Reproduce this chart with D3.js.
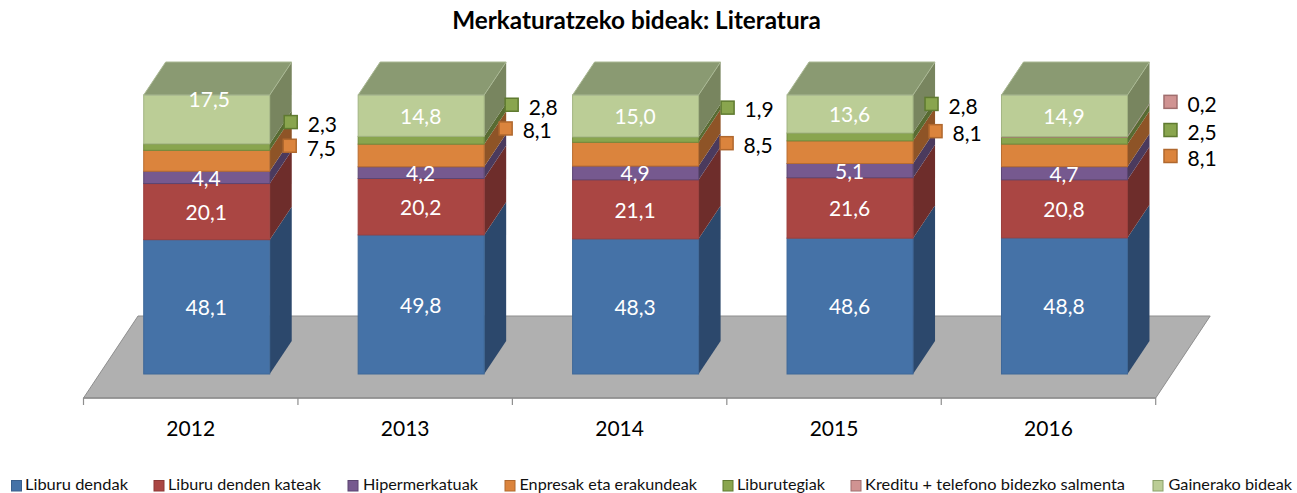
<!DOCTYPE html>
<html><head><meta charset="utf-8">
<script src="https://cdn.jsdelivr.net/npm/d3@7"></script>
<style>html,body{margin:0;padding:0;background:#fff}svg{display:block}text{font-family:Lato,"Open Sans",sans-serif}</style>
</head><body><svg id="c" width="1297" height="493"></svg>
<script>
const chartTitle = "Merkaturatzeko bideak: Literatura";
const years = ["2012","2013","2014","2015","2016"];
const seriesNames = ["Liburu dendak","Liburu denden kateak","Hipermerkatuak","Enpresak eta erakundeak","Liburutegiak","Kreditu + telefono bidezko salmenta","Gainerako bideak"];
const liburuDendak = [48.1,49.8,48.3,48.6,48.8];
const dendenKateak = [20.1,20.2,21.1,21.6,20.8];
const hipermerkatuak = [4.4,4.2,4.9,5.1,4.7];
const enpresak = [7.5,8.1,8.5,8.1,8.1];
const liburutegiak = [2.3,2.8,1.9,2.8,2.5];
const kreditua = [0,0,0,0,0.2];
const gainerakoak = [17.5,14.8,15.0,13.6,14.9];
const allValues = [liburuDendak,dendenKateak,hipermerkatuak,enpresak,liburutegiak,kreditua,gainerakoak];

const frontColors = ["#4572a7","#aa4643","#76598f","#db843d","#89a54e","#d09392","#bbcd96"];
const sideColors  = ["#2c486c","#6e2d2b","#4b3a5d","#8e5427","#586b32","#87605f","#78855f"];
const edgeColors  = ["#3f6898","#9b3f3d","#5d4672","#b86c30","#6f8a3c","#a87675","#a3b583"];
const markerEdges = ["#3a5f8c","#8c3836","#5a4570","#b0682e","#5f7a30","#a06e6e","#8aa068"];
const topColor = "#8a9a72", topEdge="#a9b893";
const floorColor = "#b0b0b0", floorEdge="#8e8e8e";

// label placement: [series index, year index, dx from bar's right edge, dy from segment centre]
const calloutOffsets = [
 [3,0,20,-15],[4,0,21,-25],
 [3,1,21.5,-27],[4,1,27.5,-35.5],
 [3,2,28,-11],[4,2,29,-32],
 [3,3,22.5,-21],[4,3,18.5,-33],
 [3,4,43,0.6],[4,4,43,-10.6],[5,4,43,-35]
];
const legendSwatchX = [11.5,154,348,505,723,851,1153];
const legendTextX = [25,168,363,519.5,737,865,1168.5];
const legendWidths = [103,153,115,177.5,88,260,123.5];

const svg = d3.select("#c");
const axisY = 398, depthX = 22, depthY = -33, floorDX = 54.5, floorDY = -82, barShift = 16;
const x = d3.scaleBand().domain(years).range([83.5,1155.7]).paddingInner(0.4124).paddingOuter(0.2062);
const y = d3.scaleLinear().domain([0,1]).range([374,95]);
const table = years.map((yr,i)=>{const o={year:yr};seriesNames.forEach((s,k)=>o[s]=allValues[k][i]);return o;});
const stacked = d3.stack().keys(seriesNames).offset(d3.stackOffsetExpand)(table);

// floor
const [r0,r1] = x.range();
svg.append("path").attr("d",`M${r0},${axisY}L${r0+floorDX},${axisY+floorDY}L${r1+floorDX},${axisY+floorDY}L${r1},${axisY}Z`)
  .attr("fill",floorColor).attr("stroke",floorEdge).attr("stroke-width",1);

// axis
const axisG = svg.append("g").attr("transform",`translate(0,${axisY})`).call(d3.axisBottom(x).tickSize(0).tickPadding(23));
axisG.select(".domain").attr("stroke",floorEdge).attr("stroke-width",1.5).attr("d",`M${r0},0H${r1}`);
axisG.selectAll(".tick text").attr("font-size",21).attr("fill","#000").style("font-family","Lato");
svg.append("g").selectAll("line").data(d3.range(years.length+1)).join("line")
  .attr("x1",i=>r0+i*x.step()).attr("x2",i=>r0+i*x.step()).attr("y1",axisY).attr("y2",axisY+7)
  .attr("stroke",floorEdge).attr("stroke-width",1.2);

// bars
const bw = x.bandwidth();
const bars = svg.append("g");
stacked.forEach((ser,k)=>{
  const g = bars.append("g");
  ser.forEach((d,i)=>{
    if(d[1]-d[0]<=0) return;
    const l = x(years[i])+barShift, r=l+bw, t=y(d[1]), b=y(d[0]);
    g.append("path").attr("d",`M${r},${b}L${r+depthX},${b+depthY}L${r+depthX},${t+depthY}L${r},${t}Z`).attr("fill",sideColors[k]);
    g.append("rect").attr("x",l).attr("y",t).attr("width",bw).attr("height",b-t)
      .attr("fill",frontColors[k]).attr("stroke",edgeColors[k]).attr("stroke-width",1);
  });
});
// top faces
bars.append("g").selectAll("path").data(years).join("path")
  .attr("d",yr=>{const l=x(yr)+barShift,r=l+bw,t=y(1);return `M${l},${t}L${l+depthX},${t+depthY}L${r+depthX},${t+depthY}L${r},${t}Z`;})
  .attr("fill",topColor).attr("stroke",topEdge).attr("stroke-width",1);

const fmt = v=>d3.format(".1f")(v).replace(".",",");
const seg = (k,i)=>{const d=stacked[k][i];return (y(d[0])+y(d[1]))/2;};

// inside labels
const insideSeries=[0,1,2,6];
const labels=svg.append("g").attr("text-anchor","middle").attr("fill","#fff").attr("font-size",21);
insideSeries.forEach(k=>years.forEach((yr,i)=>{
  const shifted = k===6&&i===0;
  labels.append("text").attr("x",x(yr)+barShift+bw/2-0.5+(shifted?3:0)).attr("y",seg(k,i)+1+(shifted?-21:0)).attr("dy","0.35em").text(fmt(allValues[k][i]));
}));

// callouts
const call=svg.append("g");
calloutOffsets.forEach(([k,i,dx,dy])=>{
  const cx=x(years[i])+barShift+bw+dx, cy=seg(k,i)+dy;
  call.append("rect").attr("x",cx-6.5).attr("y",cy-6.5).attr("width",13).attr("height",13)
    .attr("fill",frontColors[k]).attr("stroke",markerEdges[k]).attr("stroke-width",1.5);
  call.append("text").attr("x",cx+17).attr("y",cy+2.5).attr("dy","0.35em").attr("font-size",21).attr("fill","#000").text(fmt(allValues[k][i]));
});

// title
svg.append("text").attr("x",636.5).attr("y",20).attr("dy","0.35em").attr("text-anchor","middle")
  .attr("font-size",24.3).attr("font-weight",700).attr("fill","#000").text(chartTitle);

// legend
const leg=svg.append("g");
seriesNames.forEach((s,k)=>{
  leg.append("rect").attr("x",legendSwatchX[k]).attr("y",480.5).attr("width",10).attr("height",10.5)
    .attr("fill",frontColors[k]).attr("stroke",markerEdges[k]).attr("stroke-width",1);
  leg.append("text").attr("x",legendTextX[k]).attr("y",484.5).attr("dy","0.35em").attr("font-size",16)
    .attr("fill","#111").attr("textLength",legendWidths[k]).attr("lengthAdjust","spacingAndGlyphs").text(s);
});
</script></body></html>
